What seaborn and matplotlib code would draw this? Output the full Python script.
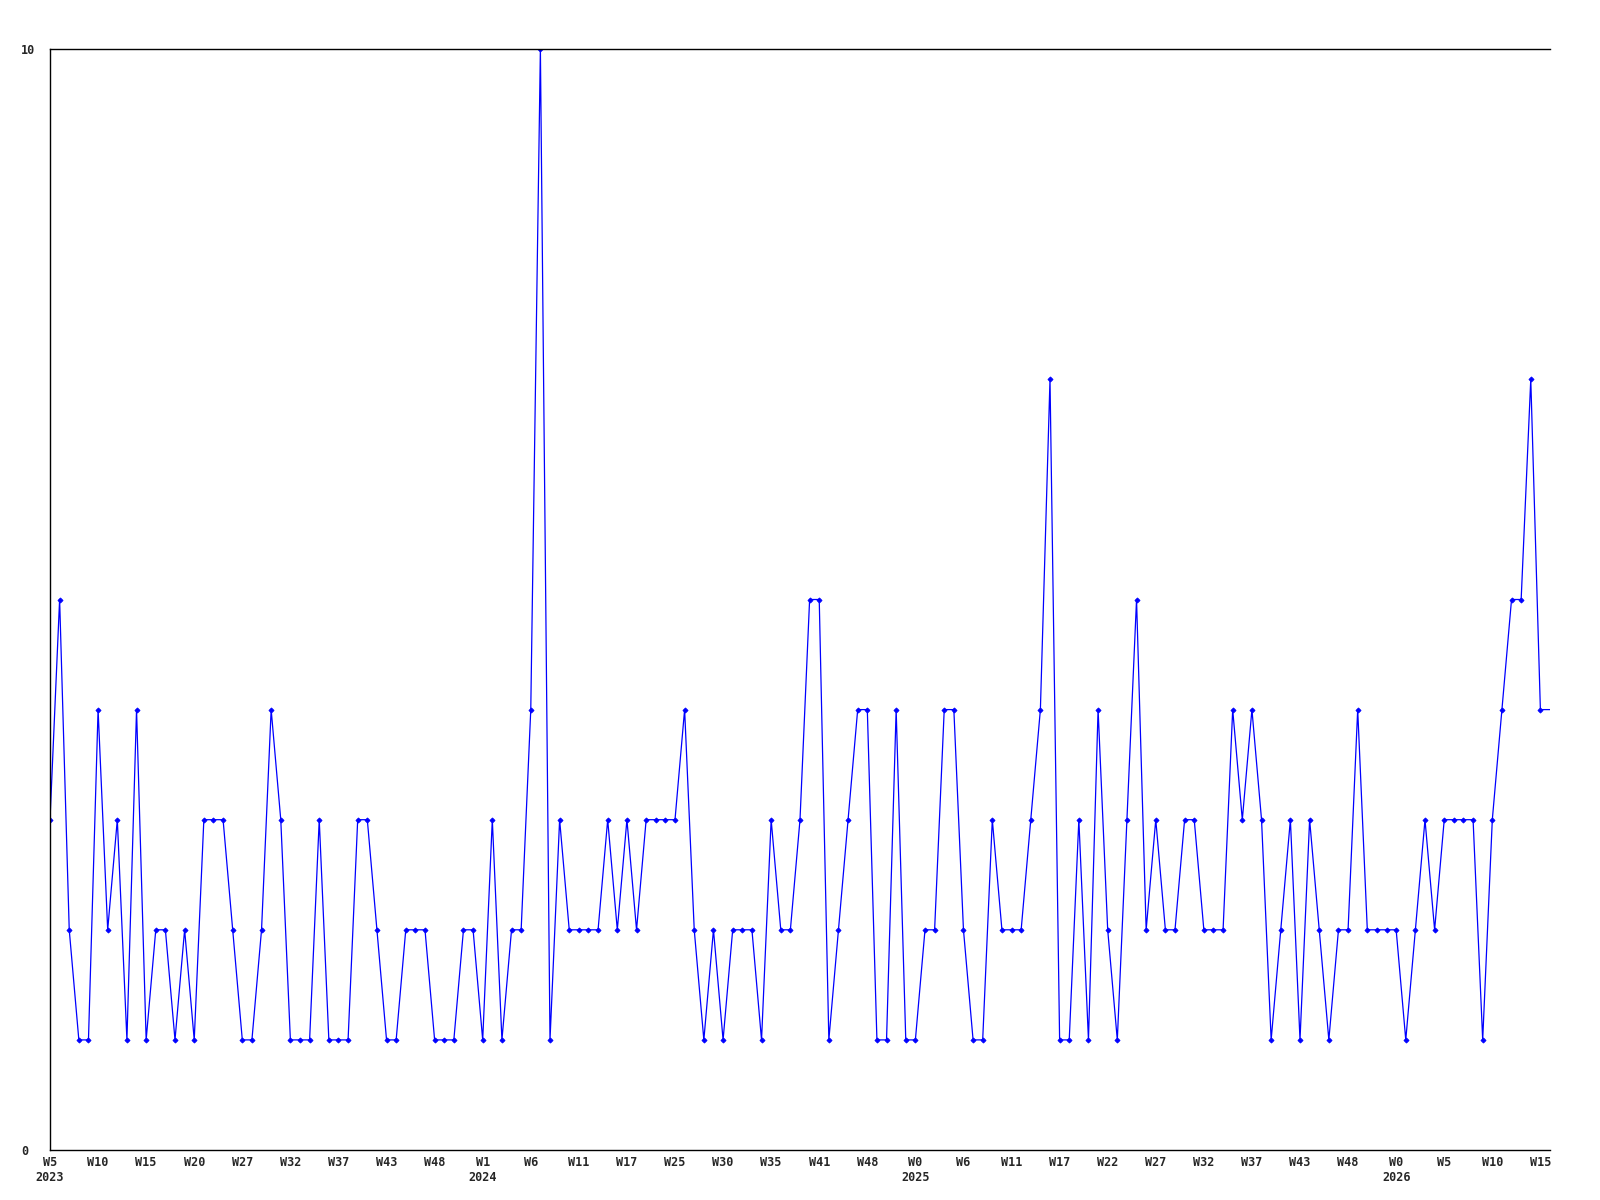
import seaborn as sns
import numpy as np
import pandas as pd
import matplotlib.pyplot as plt

# valores semanais (semanas sem dados ficam de fora do eixo)
contagens = [
    3, 5, 2, 1, 1, 4, 2, 3, 1, 4, 1, 2, 2, 1, 2, 1, 3, 3, 3, 2,
    1, 1, 2, 4, 3, 1, 1, 1, 3, 1, 1, 1, 3, 3, 2, 1, 1, 2, 2, 2,
    1, 1, 1, 2, 2, 1, 3, 1, 2, 2, 4, 10, 1, 3, 2, 2, 2, 2, 3, 2,
    3, 2, 3, 3, 3, 3, 4, 2, 1, 2, 1, 2, 2, 2, 1, 3, 2, 2, 3, 5,
    5, 1, 2, 3, 4, 4, 1, 1, 4, 1, 1, 2, 2, 4, 4, 2, 1, 1, 3, 2,
    2, 2, 3, 4, 7, 1, 1, 3, 1, 4, 2, 1, 3, 5, 2, 3, 2, 2, 3, 3,
    2, 2, 2, 4, 3, 4, 3, 1, 2, 3, 1, 3, 2, 1, 2, 2, 4, 2, 2, 2,
    2, 1, 2, 3, 2, 3, 3, 3, 3, 1, 3, 4, 5, 5, 7, 4, 4,
]

# um rotulo a cada 5 pontos
rotulos_x = [
    "W5\n2023", "W10", "W15", "W20", "W27", "W32", "W37", "W43", "W48",
    "W1\n2024", "W6", "W11", "W17", "W25", "W30", "W35", "W41", "W48",
    "W0\n2025", "W6", "W11", "W17", "W22", "W27", "W32", "W37", "W43", "W48",
    "W0\n2026", "W5", "W10", "W15",
]

df = pd.DataFrame({"idx": np.arange(len(contagens)), "valor": contagens})

sns.set_style("white")
plt.rcParams["font.family"] = ["DejaVu Sans Mono", "DejaVu Sans"]

fig = plt.figure(figsize=(16, 12), dpi=100)
ax = fig.add_axes([50 / 1600, 1 - 1150 / 1200, 1500 / 1600, 1101 / 1200])

# o ultimo ponto fica na borda e nao tem marcador na referencia
sns.lineplot(
    data=df, x="idx", y="valor", ax=ax,
    color="#0000FF", linewidth=0.9,
    marker="D", markersize=2.6, markeredgewidth=0.6, markeredgecolor="#0000FF",
    markevery=list(range(len(contagens) - 1)),
)

ax.set_xlim(0, len(contagens) - 1)
ax.set_ylim(0, 10)
ax.set_xlabel("")
ax.set_ylabel("")

ax.set_xticks(np.arange(0, 5 * len(rotulos_x), 5))
ax.set_xticklabels(rotulos_x, fontsize=8.5, fontweight="bold")
ax.set_yticks([0, 10])
ax.set_yticklabels(["0", "10"], fontsize=8.5, fontweight="bold")
ax.tick_params(axis="both", length=0)
ax.tick_params(axis="x", pad=4)
ax.tick_params(axis="y", pad=21)
for lbl in ax.get_yticklabels():
    lbl.set_horizontalalignment("left")

for lado in ["left", "top", "bottom"]:
    ax.spines[lado].set_visible(True)
    ax.spines[lado].set_color("black")
    ax.spines[lado].set_linewidth(1.0)
ax.spines["right"].set_visible(False)
ax.grid(False)

plt.savefig("out.png", dpi=100)
plt.close()
